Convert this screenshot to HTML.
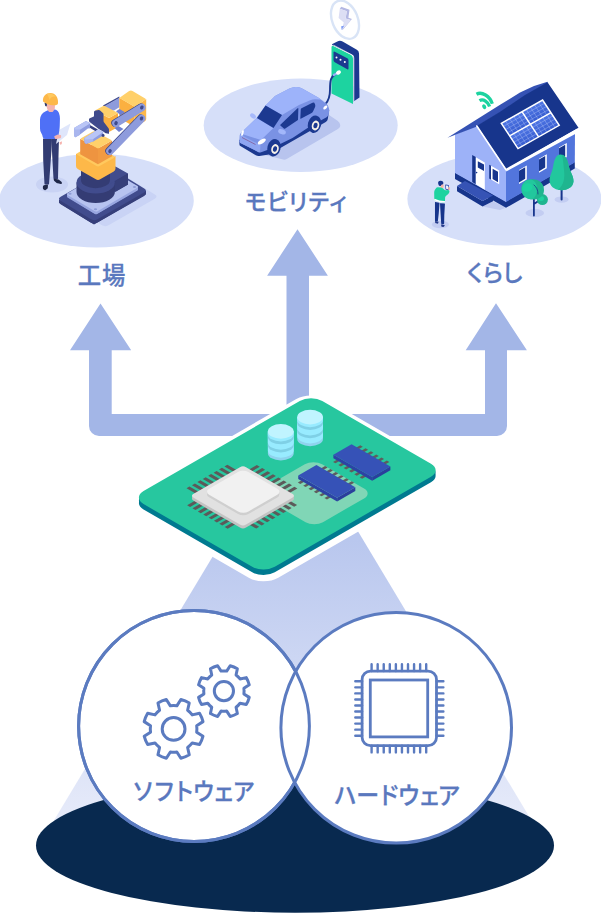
<!DOCTYPE html>
<html lang="ja">
<head>
<meta charset="utf-8">
<title>ソフトウェア・ハードウェア</title>
<style>
html,body{margin:0;padding:0;background:#fff;}
body{width:601px;height:914px;overflow:hidden;position:relative;font-family:"Liberation Sans","Noto Sans CJK JP",sans-serif;}
svg{position:absolute;left:0;top:0;display:block;}
.lbl{font-family:"Liberation Sans","Noto Sans CJK JP",sans-serif;font-weight:500;fill:#5a78be;stroke:#5a78be;stroke-width:0.3px;stroke-linejoin:round;}
</style>
</head>
<body>
<svg width="601" height="914" viewBox="0 0 601 914">
<defs>
<linearGradient id="beam" gradientUnits="userSpaceOnUse" x1="0" y1="540" x2="0" y2="830">
<stop offset="0" stop-color="#b9c7ee"/>
<stop offset="1" stop-color="#e8ecfa"/>
</linearGradient>
</defs>
<!-- platforms -->
<g id="platforms" fill="#d6dff9">
<ellipse cx="96.5" cy="200.7" rx="97.3" ry="46.8"/>
<ellipse cx="300.7" cy="125.3" rx="97" ry="46.7"/>
<ellipse cx="504.4" cy="199" rx="97" ry="46.5"/>
</g>
<!-- arrows -->
<g id="arrows" fill="#a3b6e7">
<path d="M100.5 303.5 L131.2 350.3 L111.7 350.3 L111.7 414 L286.5 414 L286.5 275.7 L267.1 275.7 L297.5 229.3 L327.9 275.7 L309 275.7 L309 414 L485 414 L485 350.3 L465.7 350.3 L496 303.3 L526.9 350.3 L507 350.3 L507 426 A10 10 0 0 1 497 436 L99 436 A10 10 0 0 1 89 426 L89 350.3 L70 350.3 Z"/>
</g>
<!-- beam -->
<path id="beampath" d="M293 423 L533 823 L50 827 Z" fill="url(#beam)"/>
<!-- base -->
<ellipse cx="295" cy="845.4" rx="259" ry="67.3" fill="#08294f"/>
<!-- board -->
<g id="board">
<g fill="#fff" stroke="#fff" stroke-width="8" stroke-linejoin="round">
<rect transform="translate(0,0) matrix(0.866,-0.5,0.866,0.5,132.3,497.6)" width="206.4" height="151.5" rx="13"/>
<rect transform="translate(0,3) matrix(0.866,-0.5,0.866,0.5,132.3,497.6)" width="206.4" height="151.5" rx="13"/>
<rect transform="translate(0,6) matrix(0.866,-0.5,0.866,0.5,132.3,497.6)" width="206.4" height="151.5" rx="13"/>
<rect transform="translate(0,9) matrix(0.866,-0.5,0.866,0.5,132.3,497.6)" width="206.4" height="151.5" rx="13"/>
</g>
<g fill="#007a90">
<rect transform="translate(0,5.5) matrix(0.866,-0.5,0.866,0.5,132.3,497.6)" width="206.4" height="151.5" rx="13"/>
<rect transform="translate(0,2.7) matrix(0.866,-0.5,0.866,0.5,132.3,497.6)" width="206.4" height="151.5" rx="13"/>
</g>
<g transform="matrix(0.866,-0.5,0.866,0.5,132.3,497.6)">
<rect width="206.4" height="151.5" rx="13" fill="#27c79f"/>
<rect x="75.5" y="66.2" width="67.5" height="68.4" rx="10" fill="#80d6b6"/>
<g fill="#5c5a5a"><rect x="40.62" y="22" width="3.4" height="80.5"/><rect x="24" y="39.3" width="80.5" height="3.4"/><rect x="46.88" y="22" width="3.4" height="80.5"/><rect x="24" y="45.5" width="80.5" height="3.4"/><rect x="53.12" y="22" width="3.4" height="80.5"/><rect x="24" y="51.7" width="80.5" height="3.4"/><rect x="59.38" y="22" width="3.4" height="80.5"/><rect x="24" y="57.9" width="80.5" height="3.4"/><rect x="65.62" y="22" width="3.4" height="80.5"/><rect x="24" y="64.1" width="80.5" height="3.4"/><rect x="71.88" y="22" width="3.4" height="80.5"/><rect x="24" y="70.3" width="80.5" height="3.4"/><rect x="78.12" y="22" width="3.4" height="80.5"/><rect x="24" y="76.5" width="80.5" height="3.4"/><rect x="84.38" y="22" width="3.4" height="80.5"/><rect x="24" y="82.7" width="80.5" height="3.4"/></g>
<g fill="#5f5d5d"><rect x="138" y="79.65" width="5" height="2.9"/><rect x="110.6" y="80.55" width="5" height="2.9"/><rect x="138" y="85.79" width="5" height="2.9"/><rect x="110.6" y="86.7" width="5" height="2.9"/><rect x="138" y="91.93" width="5" height="2.9"/><rect x="110.6" y="92.85" width="5" height="2.9"/><rect x="138" y="98.07" width="5" height="2.9"/><rect x="110.6" y="99" width="5" height="2.9"/><rect x="138" y="104.21" width="5" height="2.9"/><rect x="110.6" y="105.15" width="5" height="2.9"/><rect x="138" y="110.35" width="5" height="2.9"/><rect x="110.6" y="111.3" width="5" height="2.9"/></g>
<g fill="#5f5d5d"><rect x="179" y="79.25" width="5" height="2.9"/><rect x="151.6" y="80.15" width="5" height="2.9"/><rect x="179" y="85.39" width="5" height="2.9"/><rect x="151.6" y="86.3" width="5" height="2.9"/><rect x="179" y="91.53" width="5" height="2.9"/><rect x="151.6" y="92.45" width="5" height="2.9"/><rect x="179" y="97.67" width="5" height="2.9"/><rect x="151.6" y="98.6" width="5" height="2.9"/><rect x="179" y="103.81" width="5" height="2.9"/><rect x="151.6" y="104.75" width="5" height="2.9"/><rect x="179" y="109.95" width="5" height="2.9"/><rect x="151.6" y="110.9" width="5" height="2.9"/></g>
</g>
<g fill="#c3c3c3"><rect transform="translate(0,3) matrix(0.866,-0.5,0.866,0.5,132.3,497.6)" x="35.2" y="31.7" width="60.9" height="60.9" rx="3.5"/><rect transform="translate(0,1.5) matrix(0.866,-0.5,0.866,0.5,132.3,497.6)" x="35.2" y="31.7" width="60.9" height="60.9" rx="3.5"/></g><rect transform="matrix(0.866,-0.5,0.866,0.5,132.3,497.6)" x="35.2" y="31.7" width="60.9" height="60.9" rx="3.5" fill="#e1e1e1"/>
<g fill="#cfcfcf"><rect transform="translate(0,2.6) matrix(0.866,-0.5,0.866,0.5,132.3,497.6)" x="47.2" y="35.5" width="45.3" height="45.4" rx="6"/><rect transform="translate(0,1.3) matrix(0.866,-0.5,0.866,0.5,132.3,497.6)" x="47.2" y="35.5" width="45.3" height="45.4" rx="6"/></g><rect transform="matrix(0.866,-0.5,0.866,0.5,132.3,497.6)" x="47.2" y="35.5" width="45.3" height="45.4" rx="6" fill="#f1f1f1"/>
<path d="M298.23 475.4L337.11 497.85L337.11 501.45L298.23 479Z" fill="#2c43a4"/><path d="M337.11 497.85L355.3 487.35L355.3 490.95L337.11 501.45Z" fill="#2a3f9c"/><path d="M298.23 475.4L316.41 464.9L355.3 487.35L337.11 497.85Z" fill="#3652b7"/>
<path d="M333.39 454.7L372.18 477.1L372.18 480.7L333.39 458.3Z" fill="#2c43a4"/><path d="M372.18 477.1L390.37 466.6L390.37 470.2L372.18 480.7Z" fill="#2a3f9c"/><path d="M333.39 454.7L351.57 444.2L390.37 466.6L372.18 477.1Z" fill="#3652b7"/>
<path d="M297.2 417.1V438.9A12.9 7.3 0 0 0 323 438.9V417.1Z" fill="#8fd3ee"/><path d="M297.2 417.1V436.1A12.9 7.3 0 0 0 323 436.1V417.1Z" fill="#98ebff"/><path d="M297.2 417.1V430.9A12.9 7.3 0 0 0 323 430.9V417.1Z" fill="#7fd0e6"/><path d="M297.2 417.1V428.1A12.9 7.3 0 0 0 323 428.1V417.1Z" fill="#98ebff"/><path d="M297.2 417.1V422.7A12.9 7.3 0 0 0 323 422.7V417.1Z" fill="#7fd0e6"/><path d="M297.2 417.1V419.9A12.9 7.3 0 0 0 323 419.9V417.1Z" fill="#98ebff"/><ellipse cx="310.1" cy="417.1" rx="12.9" ry="7.3" fill="#c0f4ff"/>
<path d="M267.9 431.4V453.2A12.9 7.3 0 0 0 293.7 453.2V431.4Z" fill="#8fd3ee"/><path d="M267.9 431.4V450.4A12.9 7.3 0 0 0 293.7 450.4V431.4Z" fill="#98ebff"/><path d="M267.9 431.4V445.2A12.9 7.3 0 0 0 293.7 445.2V431.4Z" fill="#7fd0e6"/><path d="M267.9 431.4V442.4A12.9 7.3 0 0 0 293.7 442.4V431.4Z" fill="#98ebff"/><path d="M267.9 431.4V437A12.9 7.3 0 0 0 293.7 437V431.4Z" fill="#7fd0e6"/><path d="M267.9 431.4V434.2A12.9 7.3 0 0 0 293.7 434.2V431.4Z" fill="#98ebff"/><ellipse cx="280.8" cy="431.4" rx="12.9" ry="7.3" fill="#c0f4ff"/>
</g>

<!-- circles -->
<g fill="#fff" stroke="#5b7bc0" stroke-width="3">
<circle cx="194" cy="726" r="115.4"/>
<circle cx="396.2" cy="727.8" r="115.3"/>
<circle cx="194" cy="726" r="115.4" fill="none"/>
</g>
<!-- icons -->
<g id="gears" fill="none" stroke="#5b7bc0" stroke-width="3" stroke-linejoin="round">
<path d="M176.84 705.83L180.88 699.49A30.3 30.3 0 0 1 189.25 702.96L187.62 710.29A23.3 23.3 0 0 1 192.21 714.88L199.54 713.25A30.3 30.3 0 0 1 203.01 721.62L196.67 725.66A23.3 23.3 0 0 1 196.67 732.14L203.01 736.18A30.3 30.3 0 0 1 199.54 744.55L192.21 742.92A23.3 23.3 0 0 1 187.62 747.51L189.25 754.84A30.3 30.3 0 0 1 180.88 758.31L176.84 751.97A23.3 23.3 0 0 1 170.36 751.97L166.32 758.31A30.3 30.3 0 0 1 157.95 754.84L159.58 747.51A23.3 23.3 0 0 1 154.99 742.92L147.66 744.55A30.3 30.3 0 0 1 144.19 736.18L150.53 732.14A23.3 23.3 0 0 1 150.53 725.66L144.19 721.62A30.3 30.3 0 0 1 147.66 713.25L154.99 714.88A23.3 23.3 0 0 1 159.58 710.29L157.95 702.96A30.3 30.3 0 0 1 166.32 699.49L170.36 705.83A23.3 23.3 0 0 1 176.84 705.83Z"/><circle cx="173.6" cy="728.9" r="11.4"/>
<path d="M226.71 671.1L230.17 665.76A26.1 26.1 0 0 1 237.38 668.75L236.06 674.97A20.2 20.2 0 0 1 240.03 678.94L246.25 677.62A26.1 26.1 0 0 1 249.24 684.83L243.9 688.29A20.2 20.2 0 0 1 243.9 693.91L249.24 697.37A26.1 26.1 0 0 1 246.25 704.58L240.03 703.26A20.2 20.2 0 0 1 236.06 707.23L237.38 713.45A26.1 26.1 0 0 1 230.17 716.44L226.71 711.1A20.2 20.2 0 0 1 221.09 711.1L217.63 716.44A26.1 26.1 0 0 1 210.42 713.45L211.74 707.23A20.2 20.2 0 0 1 207.77 703.26L201.55 704.58A26.1 26.1 0 0 1 198.56 697.37L203.9 693.91A20.2 20.2 0 0 1 203.9 688.29L198.56 684.83A26.1 26.1 0 0 1 201.55 677.62L207.77 678.94A20.2 20.2 0 0 1 211.74 674.97L210.42 668.75A26.1 26.1 0 0 1 217.63 665.76L221.09 671.1A20.2 20.2 0 0 1 226.71 671.1Z"/><circle cx="223.9" cy="691.1" r="9.6"/>
</g>
<g id="chipicon" fill="none" stroke="#5b7bc0" stroke-width="2.8">
<rect x="362.1" y="671.1" width="74.4" height="74.6" rx="8.5"/>
<rect x="370.3" y="680" width="57.4" height="56.9" stroke-linejoin="miter"/>
<path d="M371.6 664.2V671.1M371.6 745.7V752.4M355.3 681.3H362.1M436.5 681.3H443.4M377.67 664.2V671.1M377.67 745.7V752.4M355.3 687.34H362.1M436.5 687.34H443.4M383.73 664.2V671.1M383.73 745.7V752.4M355.3 693.39H362.1M436.5 693.39H443.4M389.8 664.2V671.1M389.8 745.7V752.4M355.3 699.43H362.1M436.5 699.43H443.4M395.87 664.2V671.1M395.87 745.7V752.4M355.3 705.48H362.1M436.5 705.48H443.4M401.94 664.2V671.1M401.94 745.7V752.4M355.3 711.52H362.1M436.5 711.52H443.4M408 664.2V671.1M408 745.7V752.4M355.3 717.56H362.1M436.5 717.56H443.4M414.07 664.2V671.1M414.07 745.7V752.4M355.3 723.61H362.1M436.5 723.61H443.4M420.14 664.2V671.1M420.14 745.7V752.4M355.3 729.65H362.1M436.5 729.65H443.4M426.2 664.2V671.1M426.2 745.7V752.4M355.3 735.7H362.1M436.5 735.7H443.4" stroke-width="2.4" stroke-linecap="round"/>
</g>
<!-- illustrations -->
<g id="factory" transform="translate(0,80) scale(0.1)">
<path d="M719.05 1267.99Q685 1247 719.72 1227.13L1183.28 961.87Q1218 942 1252.05 962.99L1548.95 1146.01Q1583 1167 1548.28 1186.87L1084.72 1452.13Q1050 1472 1015.95 1451.01Z" fill="#c9d3f5"/>
<ellipse cx="520" cy="1045" rx="160" ry="80" fill="#c9d3f4"/>
<path d="M606.13 1241.87Q572 1221 606.71 1201.12L1073.29 933.88Q1108 914 1142.13 934.87L1441.87 1118.13Q1476 1139 1441.29 1158.88L974.71 1426.12Q940 1446 905.87 1425.13Z" fill="#363f7a"/>
<path d="M590 1195L590 1228L940 1446L1460 1142L1460 1105L940 1380Z" fill="#363f7a"/>
<path d="M606.13 1207.87Q572 1187 606.71 1167.12L1073.29 899.88Q1108 880 1142.13 900.87L1441.87 1084.13Q1476 1105 1441.29 1124.88L974.71 1392.12Q940 1412 905.87 1391.13Z" fill="#414c8d"/>
<path d="M678.86 1177.32Q660 1166 679.02 1154.94L1070.98 927.06Q1090 916 1108.86 927.32L1371.14 1084.68Q1390 1096 1370.98 1107.06L979.02 1334.94Q960 1346 941.14 1334.68Z" fill="#98a6e0"/>
<path d="M670 1142L670 1166L960 1346L1380 1096L1380 1070L960 1300Z" fill="#98a6e0"/>
<path d="M678.86 1151.32Q660 1140 679.02 1128.94L1070.98 901.06Q1090 890 1108.86 901.32L1371.14 1058.68Q1390 1070 1370.98 1081.06L979.02 1308.94Q960 1320 941.14 1308.68Z" fill="#b7c3f0"/>
<ellipse cx="700" cy="1138" rx="16" ry="10" fill="#8e9cd6"/>
<ellipse cx="955" cy="1293" rx="16" ry="10" fill="#8e9cd6"/>
<ellipse cx="1345" cy="1070" rx="16" ry="10" fill="#8e9cd6"/>
<path d="M1280 935L1280 1045L1160 1115L1000 1115L1000 1000Z" fill="#363f7a"/>
<path d="M765 1025V1120A192 110 0 0 0 1149 1120V1025Z" fill="#343c74"/>
<ellipse cx="957" cy="1025" rx="192" ry="110" fill="#414c8d"/>
<path d="M1155 865L1280 935L1165 1000L1060 1060L950 1000L1000 940Z" fill="#414c8d"/>
<path d="M1280 935L1280 1045L1149 1120L1149 1012Z" fill="#363f7a"/>
<path d="M810 900V1000A145 83 0 0 0 1100 1000V900Z" fill="#343c74"/>
<path d="M760 735L980 860L1155 760L1155 885Q1155 905 1137.64 914.92L1001.71 992.6Q980 1005 958.26 992.65L777.39 889.88Q760 880 760 860Z" fill="#fdb849"/>
<path d="M775.5 755.16Q760 746 775.63 737.07L919.37 654.93Q935 646 950.5 655.16L1139.5 766.84Q1155 776 1139.37 784.93L995.63 867.07Q980 876 964.5 866.84Z" fill="#fdb849"/>
<path d="M775.5 749.16Q760 740 775.63 731.07L919.37 648.93Q935 640 950.5 649.16L1139.5 760.84Q1155 770 1139.37 778.93L995.63 861.07Q980 870 964.5 860.84Z" fill="#ffc95e"/>
<path d="M802 588L980 685L980 842L802 742Z" fill="#ee9440"/>
<path d="M980 685L1120 605L1120 762L980 842Z" fill="#f19a42"/>
<path d="M814.29 594.7Q802 588 814.16 581.05L929.84 514.95Q942 508 954.29 514.7L1107.71 598.3Q1120 605 1107.84 611.95L992.16 678.05Q980 685 967.71 678.3Z" fill="#ffd06a"/>
<path d="M1030 256L1193 166L1193 182L1040 268Z" fill="#3f4a8c"/>
<path d="M1040 264L1193 178L1193 272L1140 304L1040 304Z" fill="#8e9bdc"/>
<path d="M1193 178L1347 268L1347 470L1193 380Z" fill="#fbb040"/>
<path d="M1347 268L1462 190L1462 390Q1462 405 1448.94 412.38L1347 470Z" fill="#fdb849"/>
<path d="M1203.36 184.05Q1193 178 1202.93 171.26L1291.45 111.23Q1308 100 1325.27 110.09L1451.64 183.95Q1462 190 1452.07 196.74L1356.93 261.26Q1347 268 1336.64 261.95Z" fill="#ffd06a"/>
<path d="M950 305L1090 380L1090 520L950 440Z" fill="#fbb040"/>
<path d="M1090 380L1180 330L1180 470L1090 520Z" fill="#fbb040"/>
<path d="M958.81 309.72Q950 305 958.74 300.14L1031.26 259.86Q1040 255 1048.81 259.72L1171.19 325.28Q1180 330 1171.26 334.86L1098.74 375.14Q1090 380 1081.19 375.28Z" fill="#ffd06a"/>
<path d="M1160 312L1195 290L1250 322L1205 352Z" fill="#7080d0"/>
<path d="M1145 480L1185 460L1235 490L1190 520Z" fill="#7080d0"/>
<path d="M945 310Q950 305 957.95 304.12L987.05 300.88Q995 300 1001.02 305.27L1028.98 329.73Q1035 335 1035 343L1035 407Q1035 415 1039.73 421.45L1085.27 483.55Q1090 490 1090 498L1090 532Q1090 540 1082.31 537.8L1062.69 532.2Q1055 530 1048.14 525.88L986.86 489.12Q980 485 973.69 480.09L896.31 419.91Q890 415 890 407L890 393Q890 385 897.43 382.03L932.57 367.97Q940 365 940 357L940 323Q940 315 945 310Z" fill="#3f4a8c"/>
<g transform="translate(700,320) scale(0.6653)">
<path d="M262 215L300 195L420 262L390 292Z" fill="#36407f"/>
<path d="M60 248Q60 240 66.91 235.97L233.09 139.03Q240 135 247.04 138.79L297.96 166.21Q305 170 304.5 177.98L300.5 242.02Q300 250 292.11 248.68L277.89 246.32Q270 245 263.73 249.97L156.27 335.03Q150 340 143.05 343.97L86.95 376.03Q80 380 74.34 374.34L65.66 365.66Q60 360 60 352Z" fill="#8f9de0"/>
<path d="M60 256Q60 248 67.81 249.74L142.19 266.26Q150 268 150 276L150 332Q150 340 143.05 343.97L86.95 376.03Q80 380 74.34 374.34L65.66 365.66Q60 360 60 352Z" fill="#a9b6ee"/>
<path d="M62.48 245.46Q60 240 65.18 236.98L234.82 138.02Q240 135 245.28 137.84L299.72 167.16Q305 170 299.93 173.21L155.07 264.79Q150 268 144.02 267.55L75.98 262.45Q70 262 67.52 256.54Z" fill="#b9c5f6"/>
<path d="M215.34 397.99Q215 390 221.79 385.76L413.21 266.24Q420 262 427.23 265.43L492.77 296.57Q500 300 500 308L500 342Q500 350 493.55 354.73L476.45 367.27Q470 372 463.09 376.03L356.91 437.97Q350 442 342.44 444.61L247.56 477.39Q240 480 234.08 474.62L223.92 465.38Q218 460 217.66 452.01Z" fill="#8f9de0"/>
<path d="M216.26 406Q216 398 223.99 398.42L342.01 404.58Q350 405 350 413L350 434Q350 442 342.44 444.61L247.56 477.39Q240 480 234.08 474.62L223.92 465.38Q218 460 217.74 452Z" fill="#a9b6ee"/>
<path d="M217.48 395.46Q215 390 220.09 386.82L414.91 265.18Q420 262 425.42 264.57L494.58 297.43Q500 300 495.08 303.44L354.92 401.56Q350 405 344.01 405.34L230.99 411.66Q225 412 222.52 406.54Z" fill="#b9c5f6"/>
<circle cx="497" cy="352" r="22" fill="#3a4485"/>
<circle cx="540" cy="300" r="20" fill="#3a4485"/>
</g>
<path d="M1091 709L1406 383" stroke="#3f4a8c" stroke-width="76" stroke-linecap="round" fill="none"/><path d="M1100 711L1415 385" stroke="#8e9bdc" stroke-width="76" stroke-linecap="round" fill="none"/>
<path d="M1151 430L1409 273" stroke="#3f4a8c" stroke-width="76" stroke-linecap="round" fill="none"/><path d="M1160 432L1418 275" stroke="#8e9bdc" stroke-width="76" stroke-linecap="round" fill="none"/>
<ellipse cx="1100" cy="711" rx="17" ry="21" fill="#3f4a8c" transform="rotate(25 1100 711)"/>
<ellipse cx="1415" cy="385" rx="17" ry="21" fill="#3f4a8c" transform="rotate(25 1415 385)"/>
<ellipse cx="1160" cy="432" rx="17" ry="21" fill="#3f4a8c" transform="rotate(25 1160 432)"/>
<ellipse cx="1418" cy="275" rx="17" ry="21" fill="#3f4a8c" transform="rotate(25 1418 275)"/>
<path d="M430.04 589Q430 585 433.99 585.22L516.01 589.78Q520 590 519.82 594L515.18 696Q515 700 514.71 703.99L490.29 1041.01Q490 1045 486 1045L449 1045Q445 1045 444.79 1041.01L432.21 803.99Q432 800 431.96 796Z" fill="#323c72"/>
<path d="M515.16 594Q515 590 518.96 589.47L586.04 580.53Q590 580 589.89 584L585.11 756Q585 760 584.91 764L580.09 986Q580 990 576 990L539 990Q535 990 534.77 986.01L522.23 763.99Q522 760 521.84 756Z" fill="#323c72"/>
<path d="M429.4 1064.98Q430 1055 439.68 1052.48L470.32 1044.52Q480 1042 479.54 1051.99L478.46 1075.01Q478 1085 469.68 1090.55L456.32 1099.45Q448 1105 440.38 1098.52L435.62 1094.48Q428 1088 428.6 1078.02Z" fill="#1f2747"/>
<path d="M536.94 995.76Q535 988 542.97 988.66L575.03 991.34Q583 992 589.13 997.14L613.87 1017.86Q620 1023 618.35 1030.83L617.65 1034.17Q616 1042 608.18 1040.3L577.82 1033.7Q570 1032 563.75 1027L546.25 1013Q540 1008 538.06 1000.24Z" fill="#1f2747"/>
<path d="M590 500L705 435L670 550L560 640Z" fill="#dfe6fb"/>
<path d="M595.16 629.51Q593 625 597.51 622.83L615.49 614.17Q620 612 619.64 616.99L618.36 635.01Q618 640 614.04 643.05L608.96 646.95Q605 650 602.84 645.49Z" fill="#f5b3ae"/>
<path d="M509.6 295.53Q485 300 462.24 310.35L452.76 314.65Q430 325 416.13 345.8L413.87 349.2Q400 370 400 395L400 485Q400 510 412.5 530L412.5 530Q425 550 427.5 569L427.5 569Q430 588 454.99 588.83L525.01 591.17Q550 592 566 582L566 582Q582 572 586.02 547.33L592.98 504.67Q597 480 597.62 455.01L599.38 384.99Q600 360 591.46 336.51L588.54 328.49Q580 305 560 297.5L560 297.5Q540 290 515.4 294.47Z" fill="#4f70f6"/>
<path d="M543.89 571.99Q540 565 546.95 561.03L568.05 548.97Q575 545 582.86 546.49L604.14 550.51Q612 552 611.43 559.98L610.57 572.02Q610 580 602.18 581.71L562.82 590.29Q555 592 551.11 585.01Z" fill="#f5b3ae"/>
<path d="M463.75 249.85Q462 240 471.98 240.57L540.02 244.43Q550 245 549.56 254.99L548.44 280.01Q548 290 542.16 298.12L530.84 313.88Q525 322 515.06 320.93L497.94 319.07Q488 318 483.21 309.22L474.79 293.78Q470 285 468.25 275.15Z" fill="#f5b3ae"/>
<path d="M445.98 229.9Q445 225 449.96 225.6L465.04 227.4Q470 228 469.73 232.99L468.27 260.01Q468 265 463.23 263.51L456.77 261.49Q452 260 451.02 255.1Z" fill="#2f3a6b"/>
<path d="M430 215C425 160 460 130 505 130C555 130 585 175 580 232C578 248 560 255 530 252C490 250 460 240 430 215Z" fill="#fdb849"/>
<path d="M470 140C500 128 540 140 560 170C540 160 510 165 495 200C490 175 480 155 470 140Z" fill="#ffc95e"/>
</g>
<g id="car" transform="translate(200,0) scale(0.1)">
<ellipse cx="1450" cy="197" rx="128" ry="200" transform="rotate(-22 1450 197)" fill="none" stroke="#d9e4f6" stroke-width="24"/>
<path d="M1412 68L1495 98L1484 178L1520 190L1506 200L1456 186L1468 112L1398 88Z" fill="#b4b8e3"/>
<path d="M1506 200L1520 190L1428 297L1418 297Z" fill="#b4b8e3"/>
<path d="M1398 88L1468 112L1456 186L1506 200L1418 297L1438 226L1386 180Z" fill="#dcdef4"/>
<path d="M1416 299L1412 262L1442 258Z" fill="#7f9bf5"/>
<path d="M1323.94 449.47Q1315 445 1323.84 440.32L1373.49 414.04Q1400 400 1425.96 415.03L1568.36 497.47Q1590 510 1590.27 535L1595 975L1535 1015L1535 555Z" fill="#1c3990"/>
<path d="M1315 475Q1315 450 1337.26 461.39L1507.74 548.61Q1530 560 1530 585L1530 1040L1315 935Z" fill="#1dd3a0"/>
<path d="M1335 452L1520 548Q1538 558 1538 580L1538 1012" fill="none" stroke="#fff" stroke-width="7"/>
<path d="M1335 524Q1335 510 1347.35 516.59L1472.65 583.41Q1485 590 1485 604L1485 686Q1485 700 1472.82 693.1L1347.18 621.9Q1335 615 1335 601Z" fill="#1c3990"/>
<circle cx="1365" cy="575" r="10" fill="#fff"/>
<circle cx="1405" cy="598" r="10" fill="#fff"/>
<circle cx="1448" cy="620" r="10" fill="#fff"/>
<path d="M650 1550L830.6 1595.15Q850 1600 867.26 1589.89L1370.48 1295.21Q1405 1275 1402.5 1250L1402.5 1250Q1400 1225 1375.21 1208.1L1290 1150L1000 1300Z" fill="#b8c4ee"/>
<path d="M1385 725C1300 760 1300 810 1300 900C1300 970 1290 1000 1255 1040" fill="none" stroke="#1c3990" stroke-width="19" stroke-linecap="round"/>
<path d="M1385 725L1338 750" fill="none" stroke="#9db2f8" stroke-width="22" stroke-linecap="round"/>
<ellipse cx="1385" cy="725" rx="26" ry="20" transform="rotate(-30 1385 725)" fill="#fff"/>
<path d="M392 1400L394.46 1445.01Q395 1455 403.6 1460.11L557.81 1551.78Q575 1562 594.78 1559.08L690 1545L1257.64 1219.94Q1275 1210 1278.05 1190.23L1292 1100L1200 1000L600 1300Z" fill="#1c3990"/>
<path d="M397.47 1354.99Q398 1340 408.83 1329.62L565 1180L655 1055L750 960L894.38 886.2Q930 868 965 870.5L970.08 870.86Q1000 873 1026.14 887.72L1172.57 970.19Q1190 980 1205.79 992.28L1264.21 1037.72Q1280 1050 1285.03 1069.36L1290.48 1090.32Q1293 1100 1291.9 1109.94L1289.1 1135.06Q1288 1145 1282.16 1153.12L1275.84 1161.88Q1270 1170 1261.26 1174.86L1090 1270L925 1380L700 1490L618.7 1520.9Q600 1528 582.13 1519.02L403.94 1429.49Q395 1425 395.35 1415.01Z" fill="#7a92e4"/>
<path d="M419.3 1339.53Q405 1335 415.77 1324.56L565 1180L735 1280L617.21 1393.07Q610 1400 600.47 1396.98Z" fill="#9db3fa"/>
<path d="M655 1055L750 960L894.38 886.2Q930 868 965 870.5L970.08 870.86Q1000 873 1026.14 887.72L1172.57 970.19Q1190 980 1205.89 992.15L1267.06 1038.93Q1275 1045 1267.4 1038.5L1235.2 1010.99Q1220 998 1200.08 996.23L1159.88 992.66Q1130 990 1102.43 1001.82L990 1050L820 1150Z" fill="#9db3fa"/>
<path d="M399.4 1351.98Q400 1342 408.85 1346.66L596.15 1445.34Q605 1450 604.36 1459.98L601.28 1508.04Q600 1528 582.13 1519.02L403.94 1429.49Q395 1425 395.6 1415.02Z" fill="#8ea5f1"/>
<path d="M420 1375L555 1445" stroke="#7a2e5e" stroke-width="5" fill="none"/>
<path d="M570 1180L655 1055L820 1150L735 1280Z" fill="#1c3990"/>
<path d="M803.82 1255.23Q800 1252 803.6 1248.53L973.19 1085.4Q984 1075 983.52 1089.99L980.16 1195Q980 1200 975.84 1202.77L849.16 1287.23Q845 1290 841.18 1286.77Z" fill="#1c3990"/>
<path d="M1007.62 1092.99Q1008 1085 1015.16 1081.42L1119.64 1029.18Q1142 1018 1149 1039L1151.26 1045.77Q1156 1060 1149.54 1073.54L1131.46 1111.46Q1125 1125 1111.76 1132.05L1007.41 1187.65Q1003 1190 1003.24 1185.01Z" fill="#1c3990"/>
<ellipse cx="530" cy="1160" rx="32" ry="22" transform="rotate(35 530 1160)" fill="#a6b9fb"/>
<ellipse cx="820" cy="1318" rx="40" ry="24" transform="rotate(20 820 1318)" fill="#a3b7fa"/>
<ellipse cx="425" cy="1330" rx="11" ry="30" transform="rotate(15 425 1330)" fill="#fff"/>
<ellipse cx="618" cy="1415" rx="45" ry="20" transform="rotate(-32 618 1415)" fill="#fff"/>
<ellipse cx="1253" cy="1075" rx="25" ry="14" transform="rotate(-45 1253 1075)" fill="#fff"/>
<ellipse cx="740" cy="1478" rx="66" ry="88" transform="rotate(15 740 1478)" fill="#1c3990"/><ellipse cx="750" cy="1490" rx="37" ry="50" transform="rotate(15 750 1490)" fill="#f6f1e8"/><ellipse cx="750" cy="1490" rx="20" ry="28" transform="rotate(15 750 1490)" fill="#1c3990"/>
<ellipse cx="1145" cy="1243" rx="66" ry="88" transform="rotate(15 1145 1243)" fill="#1c3990"/><ellipse cx="1155" cy="1255" rx="37" ry="50" transform="rotate(15 1155 1255)" fill="#f6f1e8"/><ellipse cx="1155" cy="1255" rx="20" ry="28" transform="rotate(15 1155 1255)" fill="#1c3990"/>
</g>
<defs><linearGradient id="sol" x1="0.2" y1="0" x2="0.8" y2="1"><stop offset="0" stop-color="#5a82ee"/><stop offset="1" stop-color="#2b50c6"/></linearGradient></defs>
<g id="house" transform="translate(400,70) scale(0.1)">
<ellipse cx="404" cy="1545" rx="85" ry="38" fill="#c3cdf2"/>
<ellipse cx="1348" cy="1430" rx="93" ry="40" fill="#c3cdf2"/>
<ellipse cx="1616" cy="1296" rx="70" ry="32" fill="#c3cdf2"/>
<path d="M825 1365L930 1312L1060 1378L1000 1400Z" fill="#c0caf0"/>
<path d="M550 1025L1060 1315L1748 920L1748 985L1060 1378L550 1090Z" fill="#17358c"/>
<path d="M550 648L765 555L1062 995L1060 1320L550 1030Z" fill="#9db2f8"/>
<path d="M1060 995L1750 615L1748 925L1060 1320Z" fill="#5275dc"/>
<path d="M570 1160L825 1310L930 1255L930 1312L825 1366L570 1212Z" fill="#17358c"/>
<path d="M570 1160L650 1110L930 1255L825 1310Z" fill="#3653b5"/>
<path d="M722 850L758 870L758 1142L722 1120Z" fill="#17358c"/>
<path d="M758 873L848 925L848 1197L758 1142Z" fill="#fff"/>
<path d="M778 912L840 946L840 1010L778 976Z" fill="#17358c"/>
<circle cx="766" cy="1026" r="8" fill="#17358c"/>
<path d="M892 948L912 958L912 1097L892 1085Z" fill="#17358c"/>
<path d="M910 958L992 1005L992 1142L910 1095Z" fill="#fff"/>
<path d="M926 988L980 1018L980 1122L926 1090Z" fill="#17358c"/>
<path d="M1190 1000L1268 955L1268 1095L1190 1140Z" fill="#fff"/><path d="M1190 1008L1252 972L1252 1088L1190 1124Z" fill="#17358c"/>
<path d="M1390 888L1468 843L1468 983L1390 1028Z" fill="#fff"/><path d="M1390 896L1452 860L1452 976L1390 1012Z" fill="#17358c"/>
<path d="M1590 775L1668 730L1668 870L1590 915Z" fill="#fff"/><path d="M1590 783L1652 747L1652 863L1590 899Z" fill="#17358c"/>
<path d="M475 678L1001 348L1200 225L1340 160L1475 118L1475 130L1250 260L1001 425L770 565Z" fill="#3552b4"/>
<path d="M770 558L1001 418L1250 250L1475 122L1785 578L1062 992Z" fill="#17358c"/>
<path d="M1062 986L1775 585L1752 626L1752 640L1062 1016Z" fill="#fff"/>
<path d="M768 560L1062 1000" stroke="#fff" stroke-width="16" fill="none" stroke-linecap="round"/>
<path d="M1013 533L1426 300L1592 553L1180 786Z" fill="#3d63d8"/>
<path d="M1013 533L1219.5 416.5L1303 543L1096.5 659.5Z" fill="url(#sol)"/>
<path d="M1219.5 416.5L1426 300L1509.5 426.5L1303 543Z" fill="url(#sol)"/>
<path d="M1096.5 659.5L1303 543L1386.5 669.5L1180 786Z" fill="url(#sol)"/>
<path d="M1303 543L1509.5 426.5L1593 553L1386.5 669.5Z" fill="url(#sol)"/>
<path d="M1054.3 509.7L1221.3 762.7M1095.6 486.4L1262.6 739.4M1136.9 463.1L1303.9 716.1M1178.2 439.8L1345.2 692.8M1260.8 393.2L1427.8 646.2M1302.1 369.9L1469.1 622.9M1343.4 346.6L1510.4 599.6M1384.7 323.3L1551.7 576.3M1033.88 564.62L1446.88 331.62M1054.75 596.25L1467.75 363.25M1075.62 627.88L1488.62 394.88M1117.38 691.12L1530.38 458.12M1138.25 722.75L1551.25 489.75M1159.12 754.38L1572.12 521.38" stroke="#c3d1fb" stroke-width="5" fill="none" opacity="0.7"/>
<path d="M1013 533L1426 300L1592 553L1180 786ZM1219.5 416.5L1386.5 669.5M1096.5 659.5L1509.5 426.5" stroke="#fff" stroke-width="15" fill="none" stroke-linejoin="miter"/>
<g fill="none" stroke="#1dd3a0" stroke-width="33">
<path d="M765 242C820 212 898 262 923 338"/>
<path d="M795 307C835 283 882 322 896 364"/>
</g>
<ellipse cx="842" cy="367" rx="19" ry="26" transform="rotate(-28 842 367)" fill="#1dd3a0"/>
<path d="M1616 1190V1296" stroke="#17358c" stroke-width="20" fill="none" stroke-linecap="round"/>
<path d="M1603 845C1560 845 1542 900 1532 960C1518 1040 1490 1060 1497 1120C1505 1180 1570 1202 1616 1202C1670 1202 1730 1175 1735 1115C1738 1060 1700 1020 1688 960C1675 890 1650 845 1603 845Z" fill="#22c79d"/>
<path d="M1620 847C1650 850 1675 890 1688 960C1700 1020 1738 1060 1735 1115C1730 1175 1670 1202 1616 1202C1600 1202 1590 1200 1580 1198C1640 1150 1650 1080 1640 1000C1635 940 1630 890 1620 847Z" fill="#1fb58f"/>
<path d="M1339 1270V1455M1339 1340L1400 1300" stroke="#17358c" stroke-width="18" fill="none" stroke-linecap="round"/>
<ellipse cx="1424" cy="1296" rx="55" ry="55" fill="#1fb58f"/>
<ellipse cx="1410" cy="1285" rx="30" ry="25" fill="#1dd3a0"/>
<path d="M1215 1190C1215 1130 1260 1090 1310 1095C1380 1085 1440 1130 1440 1200C1440 1260 1400 1290 1340 1295C1270 1300 1215 1260 1215 1190Z" fill="#1fb58f"/>
<path d="M1215 1190C1215 1130 1260 1090 1310 1095C1350 1100 1375 1150 1370 1200C1365 1260 1340 1290 1310 1292C1260 1290 1215 1250 1215 1190Z" fill="#22c79d"/>
<ellipse cx="1275" cy="1175" rx="52" ry="42" fill="#1dd3a0" transform="rotate(-20 1275 1175)"/>
<path d="M1340 1150Q1380 1180 1380 1240" stroke="#17358c" stroke-width="8" fill="none" stroke-linecap="round"/>
<g transform="translate(200,1020) scale(0.832)">
<path d="M180 365Q180 360 184.92 360.89L230.08 369.11Q235 370 234.62 374.99L225.38 495.01Q225 500 224.45 504.97L215.55 585.03Q215 590 210 590L185 590Q180 590 180 585Z" fill="#17358c"/>
<path d="M240.3 379.99Q240 375 244.98 375.42L295.02 379.58Q300 380 299.71 384.99L292.29 515.01Q292 520 291.9 525L290.1 620Q290 625 285 625L260 625Q255 625 254.7 620.01Z" fill="#17358c"/>
<path d="M180.88 595.95Q180 588 187.9 589.23L217.1 593.77Q225 595 222.22 602.5L217.78 614.5Q215 622 207.18 620.29L190.82 616.71Q183 615 182.12 607.05Z" fill="#243a8a"/>
<path d="M255 634Q255 626 262.64 628.38L292.36 637.62Q300 640 295.49 646.61L289.51 655.39Q285 662 277.16 660.43L262.84 657.57Q255 656 255 648Z" fill="#243a8a"/>
<path d="M253.26 152.81Q255 145 262.89 146.32L277.11 148.68Q285 150 284.32 157.97L282.68 177.03Q282 185 275.6 189.8L268.4 195.2Q262 200 255.1 195.94L251.9 194.06Q245 190 246.74 182.19Z" fill="#f7b5a5"/>
<path d="M303.37 155.99Q303 148 310.81 149.74L340.19 156.26Q348 158 348 166L348 212Q348 220 340.14 218.5L313.86 213.5Q306 212 305.63 204.01Z" fill="#2a4aa8"/>
<path d="M312.19 164Q312 160 315.91 160.84L336.09 165.16Q340 166 340 170L340 204Q340 208 336.07 207.24L317.93 203.76Q314 203 313.81 199Z" fill="#eef2fd"/>
<path d="M340 186Q340 180 345.85 181.33L356.15 183.67Q362 185 361.21 190.95L358.79 209.05Q358 215 352 215L346 215Q340 215 340 209Z" fill="#f7b5a5"/>
<path d="M190.46 197.26Q200 182 217.93 183.54L252.07 186.46Q270 188 281.34 201.98L288.66 211.02Q300 225 316.87 218.73L318.13 218.27Q335 212 346.5 218.5L346.5 218.5Q358 225 352.44 242.12L350.56 247.88Q345 265 329.44 274.05L317.56 280.95Q302 290 301.56 307.99L300.44 354.01Q300 372 282.47 367.89L189.53 346.11Q172 342 171.68 324L170.32 248Q170 230 179.54 214.74Z" fill="#1dd3a0"/>
<path d="M172 330Q235 360 300 358" stroke="#fff" stroke-width="20" fill="none"/>
<path d="M218.4 138.58Q215 125 222.5 115L222.5 115Q230 105 244 105L251 105Q265 105 274 115L274 115Q283 125 280.5 137.5L280.5 137.5Q278 150 266.5 151L266.5 151Q255 152 252.5 162L252.5 162Q250 172 237.5 168.5L237.5 168.5Q225 165 221.6 151.42Z" fill="#17358c"/>
</g>
</g>

<!-- labels -->
<text class="lbl" transform="scale(0.93,1)" font-size="24.3" y="799.9" x="141.9 164.6 185.1 206.9 228.6 250.0">ソフトウェア</text>
<text class="lbl" transform="scale(0.947,1)" font-size="24.3" y="803.9" x="352.2 376.3 398.5 419.8 441.3 462.1">ハードウェア</text>
<text class="lbl" transform="scale(0.983,1)" font-size="23.0" y="210.4" x="248.3 271.0 291.9 312.7 333.4">モビリティ</text>
<text class="lbl" transform="scale(0.987,1)" font-size="23.7" y="283.8" x="78.7 103.4">工場</text>
<text class="lbl" transform="scale(0.983,1)" font-size="23.2" y="281.4" x="472.1 489.9 509.8">くらし</text>
</svg>
</body>
</html>
